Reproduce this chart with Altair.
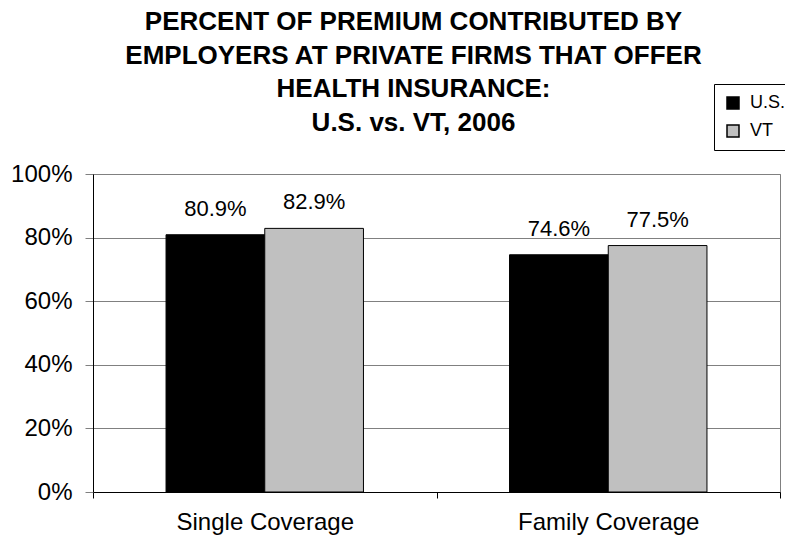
import altair as alt
import pandas as pd

categories = ["Single Coverage", "Single Coverage", "Family Coverage", "Family Coverage"]
groups = ["U.S.", "VT", "U.S.", "VT"]
values = [0.809, 0.829, 0.746, 0.775]
labels = ["80.9%", "82.9%", "74.6%", "77.5%"]

df = pd.DataFrame({"cat": categories, "grp": groups, "val": values, "lab": labels})

FONT = "Liberation Sans"
cat_order = ["Single Coverage", "Family Coverage"]

x = alt.X("cat:N", sort=cat_order, title=None,
          scale=alt.Scale(paddingInner=0, paddingOuter=0),
          axis=alt.Axis(labelAngle=0, labelFontSize=24, labelFont=FONT, labelColor="black",
                        labelLimit=400,
                        tickBand="extent", tickSize=6, tickColor="black", domainColor="black",
                        labelPadding=12, grid=False))
xoff = alt.XOffset("grp:N", sort=["U.S.", "VT"],
                   scale=alt.Scale(paddingInner=0, paddingOuter=0.74))

bars = alt.Chart(df).mark_bar(stroke="black", strokeWidth=1).encode(
    x=x,
    xOffset=xoff,
    y=alt.Y("val:Q", title=None,
            scale=alt.Scale(domain=[0, 1]),
            axis=alt.Axis(format=".0%", values=[0, 0.2, 0.4, 0.6, 0.8, 1.0],
                          labelFontSize=24, labelFont=FONT, labelColor="black",
                          tickSize=8, tickColor="#808080", domainColor="black",
                          labelPadding=13, grid=True, gridColor="#808080", gridWidth=1)),
    color=alt.Color("grp:N", sort=["U.S.", "VT"],
                    scale=alt.Scale(domain=["U.S.", "VT"], range=["#000000", "#C0C0C0"]),
                    legend=alt.Legend(title=None, orient="none", legendX=621, legendY=-90,
                                      symbolType="square", symbolSize=144,
                                      symbolStrokeColor="black", symbolStrokeWidth=1.5,
                                      labelFontSize=18, labelFont=FONT, labelColor="black",
                                      strokeColor="black", padding=10, rowPadding=10,
                                      labelOffset=8, fillColor="white")),
)

text = alt.Chart(df).mark_text(fontSize=22, font=FONT, baseline="alphabetic", dy=-19, color="black").encode(
    x=alt.X("cat:N", sort=cat_order),
    xOffset=xoff,
    y="val:Q",
    text="lab:N",
)

chart = alt.layer(bars, text).properties(
    width=687, height=318,
    title=alt.TitleParams(
        text=["PERCENT OF PREMIUM CONTRIBUTED BY", "EMPLOYERS AT PRIVATE FIRMS THAT OFFER",
              "HEALTH INSURANCE:", "U.S. vs. VT, 2006"],
        font=FONT, fontSize=26, fontWeight="bold", color="black",
        anchor="middle", frame="group", dx=-23, dy=82, lineHeight=33.5, offset=30),
    autosize=alt.AutoSizeParams(type="none"),
    padding={"left": 93, "top": 174, "right": 5, "bottom": 52},
).configure_view(stroke="#808080", strokeWidth=1)

chart.save("out.html", embed_options={"renderer": "svg", "actions": False})
